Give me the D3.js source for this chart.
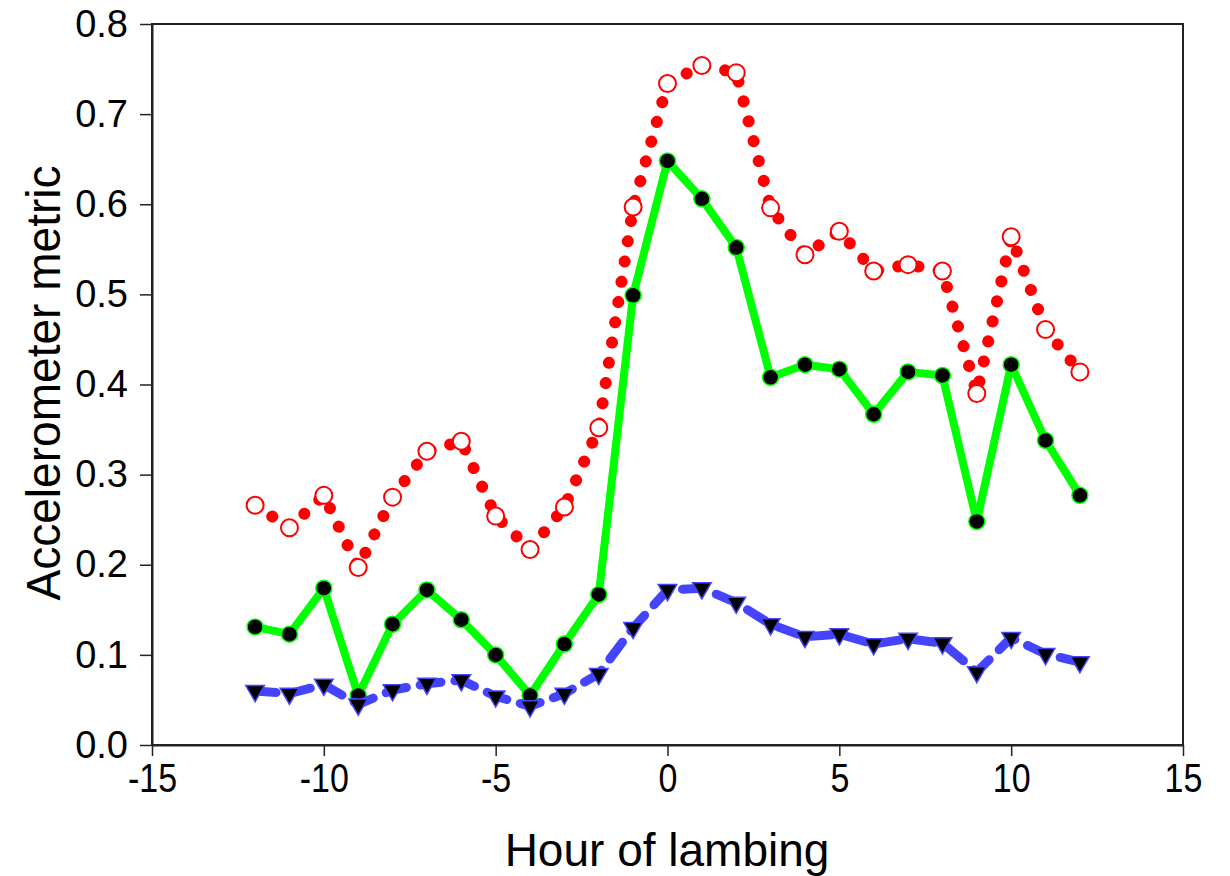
<!DOCTYPE html>
<html>
<head>
<meta charset="utf-8">
<script src="https://cdn.jsdelivr.net/npm/d3@7"></script>
<style>
  body { margin: 0; background: #fff; }
  svg text { font-family: "Liberation Sans", Arial, sans-serif; fill: #000; }
</style>
</head>
<body>
<div class="chart"></div>
<script>
var width = 1230;
var height = 876;

// data
var hours = [-12, -11, -10, -9, -8, -7, -6, -5, -4, -3, -2, -1, 0, 1, 2, 3, 4, 5, 6, 7, 8, 9, 10, 11, 12];
var redSeries = [0.266, 0.241, 0.277, 0.197, 0.275, 0.326, 0.337, 0.254, 0.217, 0.264, 0.352, 0.597, 0.734,
  0.754, 0.746, 0.596, 0.544, 0.570, 0.526, 0.533, 0.526, 0.390, 0.564, 0.461, 0.414];
var greenSeries = [0.131, 0.123, 0.174, 0.055, 0.134, 0.172, 0.139, 0.100, 0.055, 0.112, 0.167, 0.499, 0.648,
  0.606, 0.552, 0.408, 0.422, 0.417, 0.367, 0.414, 0.410, 0.248, 0.422, 0.338, 0.277];
var blueSeries = [0.060, 0.057, 0.067, 0.045, 0.061, 0.068, 0.072, 0.054, 0.043, 0.057, 0.079, 0.130, 0.172,
  0.174, 0.158, 0.134, 0.120, 0.123, 0.112, 0.118, 0.113, 0.081, 0.119, 0.101, 0.092];
var xTicks = [-15, -10, -5, 0, 5, 10, 15];
var yTicks = [0, 0.1, 0.2, 0.3, 0.4, 0.5, 0.6, 0.7, 0.8];

var svg = d3.select(".chart").append("svg")
  .attr("width", width)
  .attr("height", height);

var x = d3.scaleLinear().domain([-15, 15]).range([152, 1183]);
var y = d3.scaleLinear().domain([0, 0.8]).range([745, 24]);

// frame
svg.append("rect")
  .attr("x", x(-15)).attr("y", y(0.8))
  .attr("width", x(15) - x(-15)).attr("height", y(0) - y(0.8))
  .attr("fill", "none").attr("stroke", "#222").attr("stroke-width", 2);

// plain hyphen for negatives, like the original
var xAxis = d3.axisBottom(x).tickValues(xTicks)
  .tickFormat(function (d) { return String(d); })
  .tickSizeInner(11).tickSizeOuter(0).tickPadding(8);
var yAxis = d3.axisLeft(y).tickValues(yTicks).tickFormat(d3.format(".1f"))
  .tickSizeInner(12).tickSizeOuter(0).tickPadding(12);

var gx = svg.append("g").attr("transform", "translate(0," + y(0) + ")").call(xAxis);
var gy = svg.append("g").attr("transform", "translate(" + x(-15) + ",0)").call(yAxis);
[gx, gy].forEach(function (g) {
  g.select(".domain").attr("stroke", "#222").attr("stroke-width", 2);
  g.selectAll(".tick line").attr("stroke", "#222").attr("stroke-width", 1.5);
  g.selectAll("text").attr("fill", "#000");
});
gy.selectAll("text").attr("font-size", "38px");
gx.selectAll("text").attr("font-size", "40px").attr("transform", "scale(0.85,1)");

svg.append("text")
  .attr("x", 667).attr("y", 866)
  .attr("text-anchor", "middle")
  .attr("font-size", "46px")
  .text("Hour of lambing");

svg.append("text")
  .attr("transform", "translate(60,383) rotate(-90) scale(0.96,1)")
  .attr("text-anchor", "middle")
  .attr("font-size", "48px")
  .text("Accelerometer metric");

function rows(vals) {
  return hours.map(function (h, i) { return { h: h, v: vals[i] }; });
}
var line = d3.line().x(function (d) { return x(d.h); }).y(function (d) { return y(d.v); });

// red dotted series
svg.append("path")
  .datum(rows(redSeries))
  .attr("d", line)
  .attr("fill", "none")
  .attr("stroke", "#ff0000")
  .attr("stroke-width", 12)
  .attr("stroke-linecap", "round")
  .attr("stroke-dasharray", "0.1,20.4");

svg.append("g").selectAll("circle")
  .data(rows(redSeries))
  .enter().append("circle")
  .attr("cx", function (d) { return x(d.h); })
  .attr("cy", function (d) { return y(d.v); })
  .attr("r", 8.5)
  .attr("fill", "#fff")
  .attr("stroke", "#ff0000")
  .attr("stroke-width", 2);

// green solid series
svg.append("path")
  .datum(rows(greenSeries))
  .attr("d", line)
  .attr("fill", "none")
  .attr("stroke", "#00ff00")
  .attr("stroke-width", 8)
  .attr("stroke-linejoin", "round");

svg.append("g").selectAll("circle")
  .data(rows(greenSeries))
  .enter().append("circle")
  .attr("cx", function (d) { return x(d.h); })
  .attr("cy", function (d) { return y(d.v); })
  .attr("r", 8)
  .attr("fill", "#000")
  .attr("stroke", "#00ff00")
  .attr("stroke-width", 1.5);

// blue dashed series
svg.append("path")
  .datum(rows(blueSeries))
  .attr("d", line)
  .attr("fill", "none")
  .attr("stroke", "#4444ff")
  .attr("stroke-width", 9)
  .attr("stroke-linecap", "round")
  .attr("stroke-dasharray", "21,14");

var tri = d3.symbol().type(d3.symbolTriangle).size(150);
svg.append("g").selectAll("path")
  .data(rows(blueSeries))
  .enter().append("path")
  .attr("d", tri)
  .attr("transform", function (d) { return "translate(" + x(d.h) + "," + y(d.v) + ") rotate(180)"; })
  .attr("fill", "#000")
  .attr("stroke", "#4444ff")
  .attr("stroke-width", 1.5);
</script>
</body>
</html>
